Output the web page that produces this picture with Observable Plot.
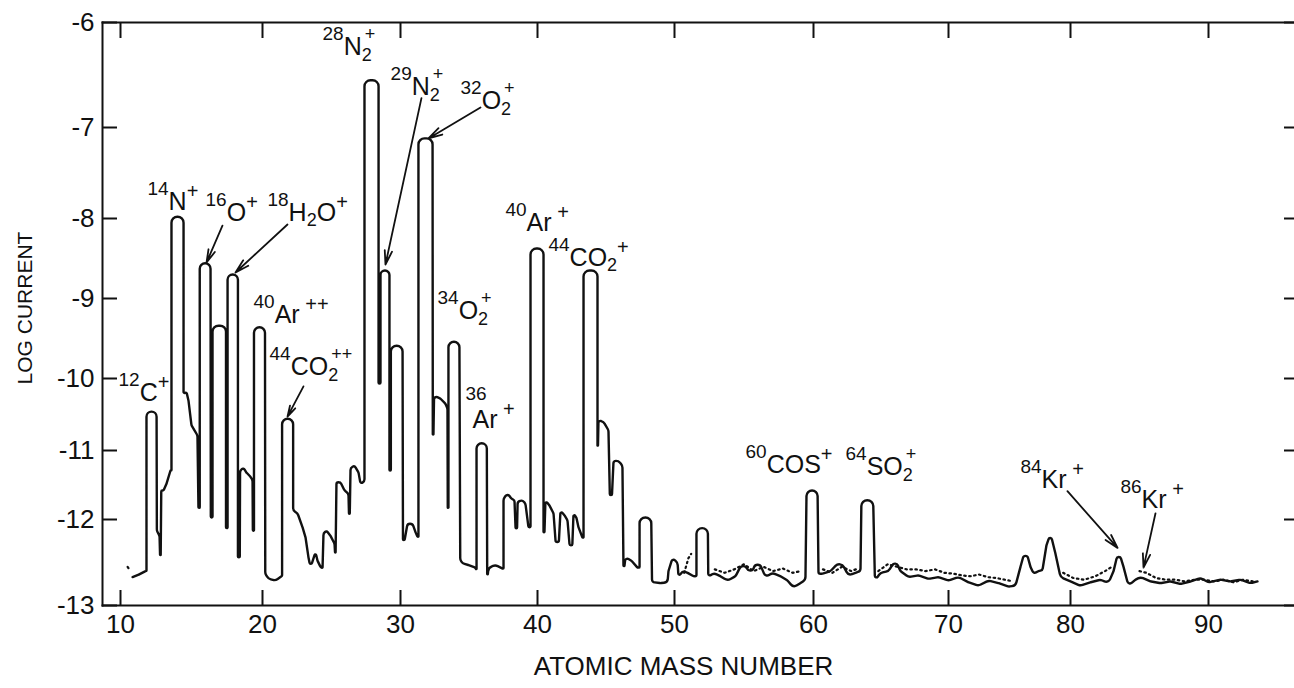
<!DOCTYPE html>
<html>
<head>
<meta charset="utf-8">
<script src="https://cdn.jsdelivr.net/npm/d3@7"></script>
<script src="https://cdn.jsdelivr.net/npm/@observablehq/plot@0.6"></script>
<style>
  html, body { margin: 0; padding: 0; background: #fff; overflow: hidden; }
  #chart svg { display: block; }
</style>
</head>
<body>
<div id="chart"></div>
<script>
// ---------------- DATA ----------------
const xTicks = [10, 20, 30, 40, 50, 60, 70, 80, 90];
const yTicks = [-13, -12, -11, -10, -9, -8, -7, -6];

// solid recorder trace: [atomic mass number, log current]
const solidTrace = [
  [10.85,-12.67],[11.3,-12.64],[11.76,-12.60],
  [11.83,-12.60],[11.83,-10.46],[12.54,-10.46],[12.56,-12.13],
  [12.75,-12.19],[12.82,-12.63],[12.87,-11.58],[13.03,-11.58],[13.24,-11.48],[13.52,-11.29],
  [13.59,-11.29],[13.59,-7.98],[14.44,-7.98],[14.44,-10.21],
  [14.65,-10.19],[14.79,-10.31],[15.0,-10.65],[15.21,-10.72],[15.42,-10.79],[15.49,-11.83],
  [15.58,-11.83],[15.58,-8.56],[16.34,-8.56],[16.36,-11.97],
  [16.48,-11.97],[16.48,-9.34],[17.43,-9.34],[17.43,-12.10],
  [17.54,-12.10],[17.54,-8.70],[18.27,-8.70],[18.27,-12.44],
  [18.40,-12.44],[18.42,-11.29],[18.66,-11.25],[18.87,-11.32],[19.15,-11.38],[19.30,-11.43],[19.32,-12.13],
  [19.40,-12.13],[19.40,-9.36],[20.18,-9.36],[20.20,-12.63],
  [20.43,-12.69],[20.94,-12.71],[21.38,-12.66],
  [21.42,-12.65],[21.42,-10.56],[22.22,-10.56],[22.22,-11.87],
  [22.54,-11.91],[22.90,-12.09],[23.12,-12.21],[23.33,-12.44],[23.48,-12.56],[23.70,-12.45],[23.84,-12.38],[23.99,-12.48],[24.20,-12.55],[24.35,-12.57],
  [24.42,-12.16],[24.64,-12.13],[24.93,-12.19],[25.22,-12.28],[25.29,-12.48],
  [25.36,-11.46],[25.65,-11.46],[25.94,-11.58],[26.23,-11.62],[26.30,-12.16],
  [26.38,-11.25],[26.67,-11.22],[26.96,-11.32],[27.10,-11.48],
  [27.39,-11.45],[27.39,-6.55],[28.41,-6.55],[28.41,-10.07],
  [28.55,-10.07],[28.55,-8.65],[29.20,-8.65],[29.20,-11.29],
  [29.30,-11.29],[29.30,-9.59],[30.15,-9.59],[30.18,-12.24],
  [30.30,-12.24],[30.51,-12.05],[30.88,-12.05],[31.10,-12.15],[31.24,-12.20],
  [31.31,-12.20],[31.31,-7.12],[32.34,-7.12],[32.36,-11.32],
  [32.45,-10.24],[32.92,-10.28],[33.28,-10.35],[33.43,-10.42],[33.45,-11.83],
  [33.50,-11.83],[33.50,-9.54],[34.30,-9.54],[34.36,-12.47],
  [34.53,-12.51],[34.96,-12.53],[35.47,-12.56],
  [35.55,-12.59],[35.55,-10.90],[36.30,-10.90],[36.33,-12.71],
  [36.42,-12.56],[36.93,-12.53],[37.45,-12.57],
  [37.52,-12.57],[37.52,-11.70],[37.81,-11.62],[38.10,-11.70],[38.32,-11.72],[38.47,-12.395],
  [38.55,-11.74],[38.91,-11.72],[39.12,-11.77],[39.34,-12.09],
  [39.49,-12.09],[39.49,-8.375],[40.44,-8.375],[40.44,-12.51],
  [40.58,-11.72],[40.88,-11.80],[41.17,-11.91],[41.46,-12.56],
  [41.68,-11.87],[41.97,-11.94],[42.19,-12.01],[42.48,-12.56],
  [42.63,-11.91],[42.85,-11.98],[42.99,-12.09],[43.28,-12.21],
  [43.36,-12.21],[43.36,-8.65],[44.38,-8.65],[44.38,-11.29],
  [44.45,-10.58],[44.82,-10.60],[45.18,-10.72],[45.33,-12.09],
  [45.55,-11.15],[45.91,-11.15],[46.20,-11.22],[46.28,-12.63],
  [46.42,-12.44],[46.86,-12.48],[47.30,-12.56],
  [47.45,-12.56],[47.45,-11.97],[48.30,-11.97],[48.36,-12.71],
  [48.47,-12.73],[48.98,-12.74],[49.49,-12.73],
  [49.56,-12.60],[49.85,-12.45],[50.22,-12.50],[50.29,-12.67],[50.58,-12.60],[50.94,-12.62],[51.37,-12.66],
  [51.58,-12.66],[51.58,-12.10],[52.40,-12.10],[52.43,-12.67],
  [52.81,-12.62],[53.31,-12.66],[53.81,-12.71],[54.39,-12.66],[54.96,-12.48],[55.47,-12.66],[55.97,-12.45],[56.55,-12.67],[57.05,-12.62],[57.63,-12.66],[58.13,-12.71],[58.56,-12.79],[59.06,-12.74],
  [59.42,-12.70],[59.50,-11.58],[60.30,-11.58],[60.37,-12.63],
  [60.67,-12.63],[61.26,-12.60],[62.0,-12.48],[62.59,-12.65],[63.11,-12.62],
  [63.48,-12.60],[63.55,-11.72],[64.42,-11.72],[64.55,-12.71],
  [64.96,-12.62],[65.56,-12.60],[66.07,-12.47],[66.44,-12.60],[67.04,-12.67],[67.78,-12.65],[68.52,-12.69],[69.26,-12.67],[70.0,-12.71],[70.82,-12.67],[71.64,-12.73],[72.46,-12.77],[73.28,-12.71],[74.10,-12.74],[74.92,-12.78],[75.49,-12.77],
  [75.90,-12.55],[76.31,-12.34],[76.72,-12.55],[76.97,-12.63],
  [77.38,-12.60],[77.70,-12.59],
  [78.03,-12.30],[78.36,-12.16],[78.77,-12.40],[79.18,-12.67],
  [80.0,-12.72],[80.72,-12.77],[81.45,-12.73],[82.17,-12.70],[82.75,-12.74],[83.12,-12.60],
  [83.48,-12.36],[83.84,-12.55],[84.20,-12.77],
  [84.71,-12.70],[85.07,-12.67],[85.80,-12.72],[86.52,-12.74],[87.25,-12.72],[87.97,-12.75],[88.70,-12.72],[89.42,-12.68],[90.0,-12.73],[90.87,-12.70],[91.59,-12.72],[92.32,-12.70],[93.04,-12.74],[93.55,-12.72]
];

// dotted (second) trace; null breaks the line
const dottedTrace = [
  [10.50,-12.55],[10.62,-12.58],[null,null],
  [50.70,-12.62],[51.00,-12.45],[51.20,-12.40],[null,null],
  [52.90,-12.58],[53.60,-12.62],[54.30,-12.58],[55.00,-12.52],[55.70,-12.60],[56.40,-12.55],[57.10,-12.60],[57.80,-12.57],[58.50,-12.62],[59.10,-12.60],[null,null],
  [60.70,-12.58],[61.40,-12.62],[62.10,-12.55],[62.80,-12.60],[63.30,-12.57],[null,null],
  [64.80,-12.60],[65.50,-12.52],[66.20,-12.55],[66.90,-12.58],[67.60,-12.58],[68.30,-12.60],[69.00,-12.58],[69.70,-12.62],[70.40,-12.63],[71.10,-12.65],[71.80,-12.66],[72.50,-12.64],[73.20,-12.67],[73.90,-12.68],[74.60,-12.70],[75.30,-12.72],[null,null],
  [79.40,-12.62],[80.20,-12.68],[81.00,-12.70],[81.80,-12.66],[82.50,-12.60],[83.00,-12.55],[null,null],
  [85.00,-12.60],[85.50,-12.62],[86.20,-12.68],[86.90,-12.70],[87.60,-12.70],[88.30,-12.72],[89.00,-12.70],[89.70,-12.70],[90.40,-12.72],[91.10,-12.70],[91.80,-12.73],[92.50,-12.70],[93.20,-12.72]
];

// peak labels: ^{..} superscript, _{..} subscript, ~{..} superscript stacked over the subscript
const labelText = [
  "^{12}C^{+}", "^{14}N^{+}", "^{16}O^{+}", "^{18}H_{2}O^{+}",
  "^{40}Ar^{ ++}", "^{44}CO_{2}~{++}", "^{28}N_{2}~{+}", "^{29}N_{2}~{+}",
  "^{32}O_{2}~{+}", "^{34}O_{2}~{+}", "^{36}", "Ar^{ +}",
  "^{40}Ar^{ +}", "^{44}CO_{2}^{+}", "^{60}COS^{+}", "^{64}SO_{2}~{+}",
  "^{84}Kr^{ +}", "^{86}Kr^{ +}"
];
const labelMass = [9.86, 11.90, 15.99, 20.36, 19.37, 20.51, 24.35, 29.28, 34.38, 32.70, 34.74, 35.26, 37.66, 40.80, 55.11, 62.37, 75.90, 83.62];
const labelLog  = [-10.31, -7.91, -8.025, -8.025, -9.30, -9.96, -6.31, -6.695, -6.82, -9.25, -10.51, -10.69, -8.15, -8.59, -11.33, -11.36, -11.55, -11.83];

// annotation arrows (from label to peak)
const arrowFromMass = [17.18, 21.81, 22.97, 31.53, 35.84, 79.75, 86.16];
const arrowFromLog  = [-8.09, -8.075, -10.11, -6.72, -6.81, -11.59, -11.91];
const arrowToMass   = [16.06, 18.10, 21.81, 28.91, 32.04, 83.41, 85.29];
const arrowToLog    = [-8.55, -8.675, -10.53, -8.575, -7.12, -12.33, -12.56];

// ---------------- CHART ----------------
const INK = "#111";
const FONT = "'Liberation Sans', Arial, Helvetica, sans-serif";
const labelIdx = labelText.map((_, i) => i);
const arrowIdx = arrowFromMass.map((_, i) => i);

// pen-recorder look: polyline whose corners are rounded (radius in px)
function roundedCorners(radius) {
  return function (context) {
    let pts = [];
    return {
      areaStart() {}, areaEnd() {},
      lineStart() { pts = []; },
      point(x, y) { pts.push([+x, +y]); },
      lineEnd() {
        const n = pts.length;
        if (!n) return;
        context.moveTo(pts[0][0], pts[0][1]);
        for (let i = 1; i < n - 1; i++) {
          const [x0, y0] = pts[i - 1], [x1, y1] = pts[i], [x2, y2] = pts[i + 1];
          const ax = x0 - x1, ay = y0 - y1, bx = x2 - x1, by = y2 - y1;
          const la = Math.hypot(ax, ay), lb = Math.hypot(bx, by);
          if (la < 1e-6 || lb < 1e-6) { context.lineTo(x1, y1); continue; }
          let c = (ax * bx + ay * by) / (la * lb);
          c = Math.max(-1, Math.min(1, c));
          const theta = Math.acos(c);
          if (theta > Math.PI - 0.01) { context.lineTo(x1, y1); continue; }
          const tmax = Math.min(la, lb) / 2;
          const r = Math.min(radius, tmax * Math.tan(theta / 2));
          if (r < 0.2) context.lineTo(x1, y1);
          else context.arcTo(x1, y1, x2, y2, r);
        }
        if (n > 1) context.lineTo(pts[n - 1][0], pts[n - 1][1]);
      }
    };
  };
}

const chart = Plot.plot({
  width: 1294,
  height: 688,
  marginLeft: 102,
  marginRight: 0,
  marginTop: 22,
  marginBottom: 83,
  style: {fontFamily: FONT, color: INK, background: "#fff", overflow: "visible"},
  x: {type: "linear", domain: xTicks, range: [120, 262, 400, 537, 674, 813, 948, 1070, 1208]},
  y: {type: "linear", domain: yTicks, range: [605, 519, 450, 378, 298, 218, 127, 22]},
  marks: [
    Plot.frame({anchor: "top", stroke: INK, strokeWidth: 2}),
    Plot.frame({anchor: "bottom", stroke: INK, strokeWidth: 2}),
    Plot.frame({anchor: "left", stroke: INK, strokeWidth: 2}),
    // inward ticks
    Plot.axisX({anchor: "bottom", ticks: xTicks, tickSize: -15, strokeWidth: 2, tickFormat: () => "", label: null}),
    Plot.axisX({anchor: "top", ticks: xTicks, tickSize: -15, strokeWidth: 2, tickFormat: () => "", label: null}),
    Plot.axisY({anchor: "left", ticks: yTicks, tickSize: -15, strokeWidth: 2, tickFormat: () => "", label: null}),
    Plot.axisY({anchor: "right", ticks: yTicks, tickSize: -11, strokeWidth: 2, tickFormat: () => "", label: null}),
    // tick labels
    Plot.axisX({anchor: "bottom", ticks: xTicks, tickSize: 0, tickPadding: 9, fontSize: 26, tickFormat: d => String(d), label: null}),
    Plot.axisY({anchor: "left", ticks: yTicks, tickSize: 0, tickPadding: 8, fontSize: 26, tickFormat: d => String(d), label: null}),
    // axis titles
    Plot.text(["LOG CURRENT"], {frameAnchor: "left", rotate: -90, dx: -77, dy: -6, textAnchor: "middle", fontSize: 21, fill: INK}),
    Plot.text(["ATOMIC MASS NUMBER"], {frameAnchor: "bottom", dx: -15, dy: 69, textAnchor: "middle", fontSize: 26, fill: INK}),
    // traces
    Plot.line(dottedTrace, {x: d => d[0], y: d => d[1], stroke: INK, strokeWidth: 2.2, strokeDasharray: "1.5,3.5", strokeLinecap: "round"}),
    Plot.line(solidTrace, {x: d => d[0], y: d => d[1], stroke: INK, strokeWidth: 2.4, curve: roundedCorners(6), strokeLinejoin: "round"}),
    // arrows
    Plot.arrow(arrowIdx, {x1: i => arrowFromMass[i], y1: i => arrowFromLog[i], x2: i => arrowToMass[i], y2: i => arrowToLog[i], stroke: INK, strokeWidth: 1.8, headLength: 12, headAngle: 30}),
    // labels (rich formatting applied below)
    Plot.text(labelIdx, {x: i => labelMass[i], y: i => labelLog[i], text: i => "\u00A7" + i, textAnchor: "start", lineAnchor: "bottom", fontSize: 25, fill: INK})
  ]
});

// Build super/subscripts for peak labels
const SVGNS = "http://www.w3.org/2000/svg";
chart.querySelectorAll("text").forEach(el => {
  const t = el.textContent;
  if (!t.startsWith("\u00A7")) return;
  const spec = labelText[+t.slice(1)];
  el.textContent = "";
  el.setAttribute("style", "white-space: pre");
  const re = /([\^_~])\{([^}]*)\}|([^\^_~]+)/g;
  let m, cur = 0, seenMain = false, lastSub = "";
  const stacked = spec.includes("~");
  while ((m = re.exec(spec))) {
    const ts = document.createElementNS(SVGNS, "tspan");
    let target, size, dx = 0, txt;
    if (m[3] !== undefined) { target = 0; size = 25; txt = m[3]; seenMain = true; }
    else if (m[1] === "^") { target = seenMain ? -12 : -15; size = seenMain ? 20 : 19; txt = m[2]; }
    else if (m[1] === "_") { target = stacked ? 6 : 5; size = 18; txt = m[2]; lastSub = m[2]; }
    else { target = -15; size = 18; txt = m[2]; dx = -0.556 * 18 * lastSub.length + 3; }
    ts.textContent = txt;
    ts.setAttribute("font-size", size);
    if (target - cur !== 0) ts.setAttribute("dy", target - cur);
    if (dx) ts.setAttribute("dx", dx);
    cur = target;
    el.appendChild(ts);
  }
});

document.getElementById("chart").appendChild(chart);
</script>
</body>
</html>
